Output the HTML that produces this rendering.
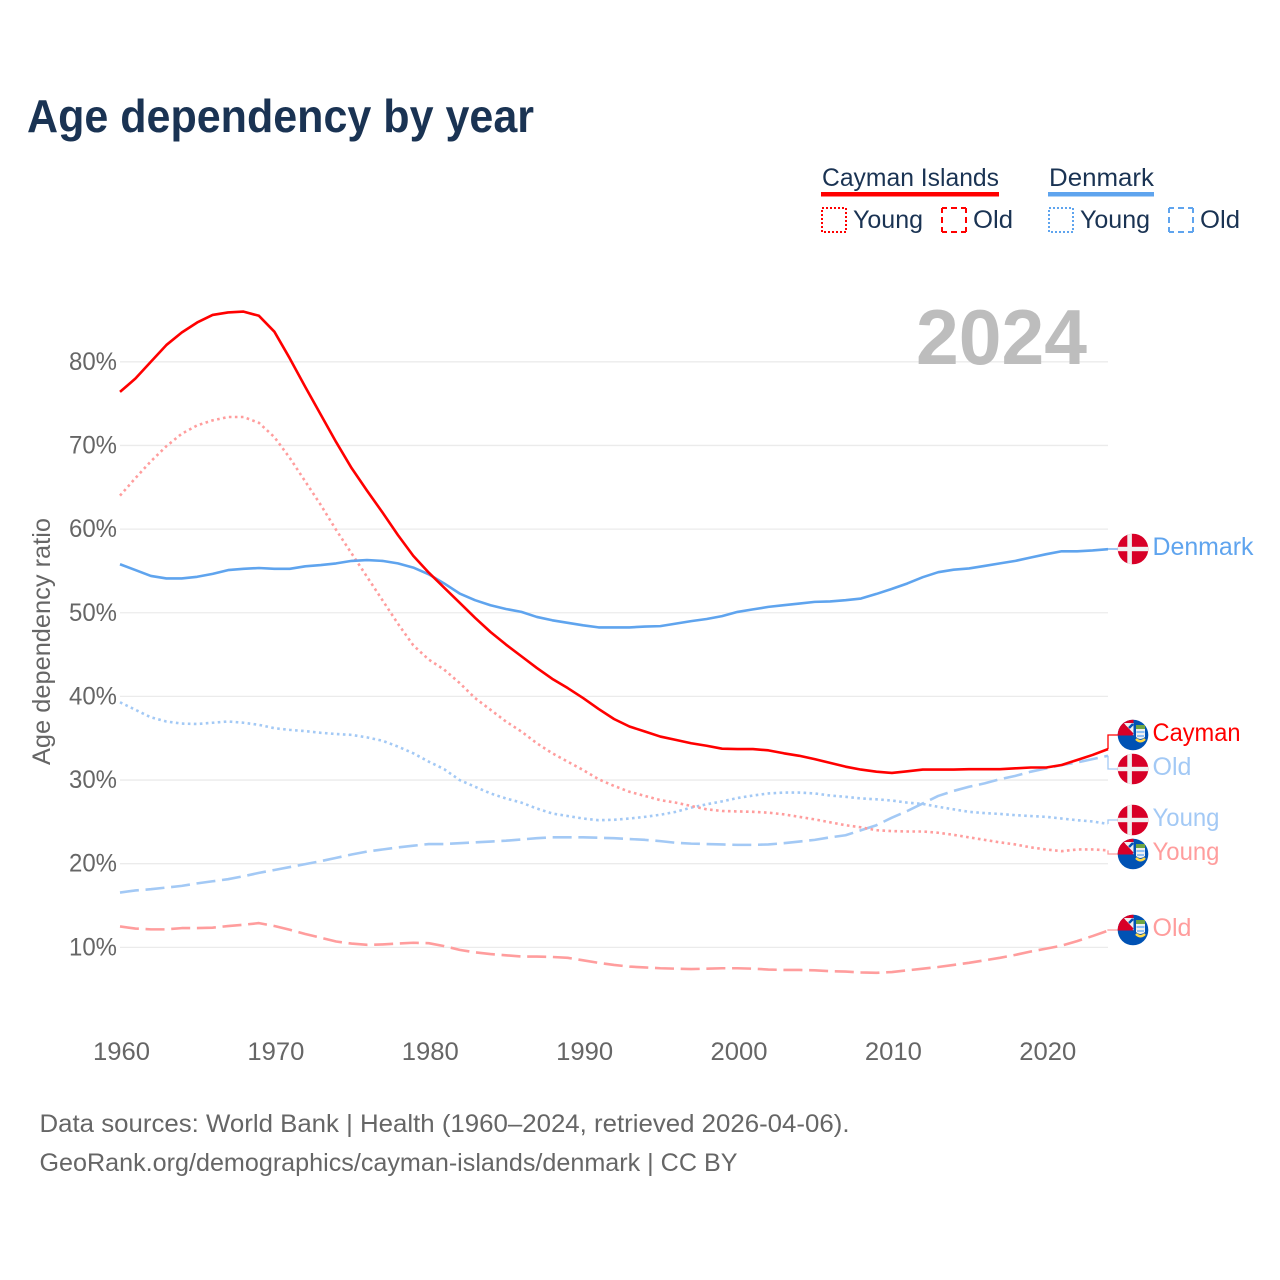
<!DOCTYPE html>
<html lang="en">
<head>
<meta charset="utf-8">
<title>Age dependency by year</title>
<style>
  html, body { margin: 0; padding: 0; background: #fff; }
  svg { display: block; font-family: "Liberation Sans", sans-serif; }
  .leg { font-size: 25px; fill: #1a3353; }
  .tick { font-size: 25px; fill: #666; }
  .foot { font-size: 25px; fill: #666; }
  .end { font-size: 25px; }
</style>
</head>
<body>
<svg id="chart" xmlns="http://www.w3.org/2000/svg" width="1280" height="1280" viewBox="0 0 1280 1280">
  <defs>
    <clipPath id="flag-clip"><circle cx="15" cy="15" r="15.3"></circle></clipPath>
    <symbol id="flag-dk" viewBox="-1 -1 32 32" width="32" height="32">
      <g clip-path="url(#flag-clip)">
        <rect x="-1" y="-1" width="32" height="32" fill="#d80027"></rect>
        <rect x="9.3" y="-1" width="4.6" height="32" fill="#f0f0f0"></rect>
        <rect x="-1" y="12.8" width="32" height="4.4" fill="#f0f0f0"></rect>
      </g>
    </symbol>
    <symbol id="flag-ky" viewBox="-1 -1 32 32" width="32" height="32">
      <g clip-path="url(#flag-clip)">
        <rect x="-1" y="-1" width="32" height="32" fill="#0052b4"></rect>
        <rect x="-1" y="-1" width="16.5" height="16.5" fill="#d80027"></rect>
        <path d="M6 3 H15.5 V15.5 Z" fill="#f0f0f0"></path>
        <path d="M8 6.5 L15 14" stroke="#d80027" stroke-width="1.4" fill="none"></path>
        <path d="M15 4 L11 8" stroke="#0052b4" stroke-width="2.4" fill="none"></path>
        <path d="M18 5 H27 V9.5 H18 Z" fill="#6da544"></path>
        <path d="M18 9 H27 V17 Q22.5 21 18 17 Z" fill="#f0f0f0"></path>
        <path d="M18.5 12 H26.5 M19 16 H26" stroke="#6fb1f7" stroke-width="1.6" fill="none"></path>
        <path d="M18 19 Q22.5 23.5 27 19" stroke="#ffda44" stroke-width="2.4" fill="none"></path>
      </g>
    </symbol>
  </defs>

  <text x="27" y="132" font-size="46" font-weight="700" fill="#1a3353" textLength="507" lengthAdjust="spacingAndGlyphs">Age dependency by year</text>

  <g>
    <g>
      <text class="leg" x="822" y="186" textLength="177" lengthAdjust="spacingAndGlyphs">Cayman Islands</text>
      <rect x="821" y="192" width="178" height="4.5" fill="#ff0000"></rect>
      <rect x="822" y="208" width="24" height="24" fill="none" stroke="#ff0000" stroke-width="2" stroke-dasharray="2 2"></rect>
      <text class="leg" x="853" y="228" textLength="70" lengthAdjust="spacingAndGlyphs">Young</text>
      <rect x="942" y="208" width="24" height="24" fill="none" stroke="#ff0000" stroke-width="2" stroke-dasharray="5 4 6 4 5 0"></rect>
      <text class="leg" x="973" y="228" textLength="40" lengthAdjust="spacingAndGlyphs">Old</text>
    </g>
    <g>
      <text class="leg" x="1049" y="186" textLength="105" lengthAdjust="spacingAndGlyphs">Denmark</text>
      <rect x="1048" y="192" width="106" height="4.5" fill="#5fa4ee"></rect>
      <rect x="1049" y="208" width="24" height="24" fill="none" stroke="#5fa4ee" stroke-width="2" stroke-dasharray="2 2"></rect>
      <text class="leg" x="1080" y="228" textLength="70" lengthAdjust="spacingAndGlyphs">Young</text>
      <rect x="1169" y="208" width="24" height="24" fill="none" stroke="#5fa4ee" stroke-width="2" stroke-dasharray="5 4 6 4 5 0"></rect>
      <text class="leg" x="1200" y="228" textLength="40" lengthAdjust="spacingAndGlyphs">Old</text>
    </g>
  </g>

  <g id="grid"></g>
  <g id="yticks"></g>
  <g id="xticks"></g>

  <text class="tick" transform="translate(50,765) rotate(-90)" x="0" y="0" textLength="247" lengthAdjust="spacingAndGlyphs">Age dependency ratio</text>

  <text x="916" y="364" font-size="78" font-weight="700" fill="#bdbdbd" textLength="171" lengthAdjust="spacingAndGlyphs">2024</text>

  <g id="series"></g>

  <g>
    <use href="#flag-dk" x="1117" y="533"></use>
    <use href="#flag-ky" x="1117" y="719"></use>
    <use href="#flag-dk" x="1117" y="753"></use>
    <use href="#flag-dk" x="1117" y="804"></use>
    <use href="#flag-ky" x="1117" y="838"></use>
    <use href="#flag-ky" x="1117" y="914"></use>
  </g>

  <g>
    <text class="end" x="1152.5" y="555" fill="#5fa4ee" textLength="101" lengthAdjust="spacingAndGlyphs">Denmark</text>
    <text class="end" x="1152.5" y="741" fill="#ff0000" textLength="88" lengthAdjust="spacingAndGlyphs">Cayman</text>
    <text class="end" x="1152.5" y="775" fill="#a3c9f5" textLength="39" lengthAdjust="spacingAndGlyphs">Old</text>
    <text class="end" x="1152.5" y="826" fill="#a3c9f5" textLength="67" lengthAdjust="spacingAndGlyphs">Young</text>
    <text class="end" x="1152.5" y="860" fill="#ff9d9d" textLength="67" lengthAdjust="spacingAndGlyphs">Young</text>
    <text class="end" x="1152.5" y="936" fill="#ff9d9d" textLength="39" lengthAdjust="spacingAndGlyphs">Old</text>
  </g>

  <text class="foot" x="39.5" y="1132" textLength="810" lengthAdjust="spacingAndGlyphs">Data sources: World Bank | Health (1960–2024, retrieved 2026-04-06).</text>
  <text class="foot" x="39.5" y="1171" textLength="698" lengthAdjust="spacingAndGlyphs">GeoRank.org/demographics/cayman-islands/denmark | CC BY</text>
</svg>

<script>
const years = [
  1960,1961,1962,1963,1964,1965,1966,1967,1968,1969,
  1970,1971,1972,1973,1974,1975,1976,1977,1978,1979,
  1980,1981,1982,1983,1984,1985,1986,1987,1988,1989,
  1990,1991,1992,1993,1994,1995,1996,1997,1998,1999,
  2000,2001,2002,2003,2004,2005,2006,2007,2008,2009,
  2010,2011,2012,2013,2014,2015,2016,2017,2018,2019,
  2020,2021,2022,2023,2024
];
const yTickValues = [10,20,30,40,50,60,70,80];
const xTickValues = [1960,1970,1980,1990,2000,2010,2020];

const caymanTotal = [
  76.4,78.0,80.0,82.0,83.5,84.7,85.6,85.9,86.0,85.5,
  83.6,80.4,77.0,73.7,70.4,67.3,64.6,62.0,59.3,56.8,
  54.8,53.0,51.2,49.4,47.7,46.2,44.8,43.4,42.1,41.0,
  39.8,38.5,37.3,36.4,35.8,35.2,34.8,34.4,34.1,33.75,
  33.7,33.7,33.55,33.2,32.9,32.5,32.05,31.6,31.25,31.0,
  30.85,31.05,31.25,31.25,31.25,31.3,31.3,31.3,31.4,31.5,
  31.5,31.8,32.4,33.0,33.7
];
const caymanYoung = [
  64.0,66.1,68.1,69.9,71.4,72.4,73.0,73.4,73.4,72.7,
  71.0,68.5,65.7,62.9,59.9,57.1,54.3,51.5,48.7,46.1,
  44.4,43.2,41.6,39.8,38.4,37.0,35.8,34.4,33.2,32.2,
  31.2,30.1,29.3,28.6,28.1,27.6,27.3,26.9,26.5,26.3,
  26.25,26.2,26.1,25.9,25.6,25.3,24.95,24.6,24.35,24.0,
  23.9,23.85,23.85,23.7,23.45,23.15,22.85,22.55,22.3,21.95,
  21.7,21.5,21.7,21.7,21.6
];
const caymanOld = [
  12.5,12.25,12.15,12.15,12.3,12.3,12.35,12.55,12.7,12.9,
  12.55,12.1,11.6,11.15,10.7,10.45,10.3,10.35,10.45,10.55,
  10.5,10.15,9.7,9.4,9.2,9.05,8.9,8.9,8.85,8.75,
  8.45,8.15,7.9,7.7,7.6,7.5,7.45,7.4,7.45,7.5,
  7.5,7.45,7.35,7.3,7.3,7.25,7.15,7.1,7.0,6.95,
  7.05,7.25,7.45,7.65,7.9,8.15,8.45,8.75,9.1,9.5,
  9.85,10.2,10.75,11.35,12.0
];
const denmarkTotal = [
  55.8,55.1,54.4,54.1,54.1,54.3,54.65,55.1,55.25,55.35,
  55.25,55.25,55.55,55.7,55.9,56.2,56.3,56.2,55.9,55.4,
  54.6,53.5,52.3,51.5,50.9,50.45,50.1,49.5,49.1,48.8,
  48.5,48.25,48.25,48.25,48.35,48.4,48.7,49.0,49.25,49.6,
  50.1,50.4,50.7,50.9,51.1,51.3,51.35,51.5,51.7,52.25,
  52.85,53.5,54.25,54.85,55.15,55.3,55.6,55.9,56.2,56.6,
  57.0,57.35,57.35,57.45,57.6
];
const denmarkYoung = [
  39.3,38.4,37.5,37.0,36.75,36.7,36.85,37.0,36.85,36.6,
  36.2,36.0,35.85,35.65,35.5,35.4,35.1,34.7,34.0,33.2,
  32.2,31.3,30.0,29.2,28.4,27.8,27.3,26.6,26.0,25.7,
  25.4,25.2,25.25,25.4,25.6,25.85,26.2,26.7,27.1,27.45,
  27.85,28.15,28.4,28.5,28.5,28.4,28.15,28.0,27.8,27.7,
  27.55,27.3,27.15,26.8,26.5,26.2,26.05,25.95,25.8,25.7,
  25.6,25.4,25.2,25.05,24.75
];
const denmarkOld = [
  16.55,16.8,16.95,17.15,17.35,17.65,17.9,18.15,18.5,18.9,
  19.25,19.6,19.95,20.3,20.7,21.1,21.45,21.7,21.95,22.15,
  22.35,22.35,22.45,22.55,22.65,22.75,22.9,23.05,23.15,23.15,
  23.15,23.1,23.05,22.95,22.85,22.7,22.5,22.4,22.35,22.3,
  22.25,22.25,22.3,22.45,22.65,22.85,23.15,23.4,24.0,24.6,
  25.5,26.3,27.2,28.1,28.7,29.2,29.6,30.1,30.5,31.0,
  31.4,31.8,32.1,32.5,32.9
];

const SVG_NS = 'http://www.w3.org/2000/svg';
function xScale(year) { return 120 + (year - 1960) * (988 / 64); }
function yScale(value) { return 1031 - value * 8.365; }

const gridLayer = document.getElementById('grid');
const yTickLayer = document.getElementById('yticks');
const xTickLayer = document.getElementById('xticks');
const seriesLayer = document.getElementById('series');

yTickValues.forEach(function (v) {
  const line = document.createElementNS(SVG_NS, 'line');
  
  
  line.setAttribute('x1', 120);
  line.setAttribute('x2', 1108);
  line.setAttribute('y1', yScale(v));
  line.setAttribute('y2', yScale(v));
  line.setAttribute('stroke', '#ebebeb');
  line.setAttribute('stroke-width', '1.3');
  gridLayer.appendChild(line);

  const label = document.createElementNS(SVG_NS, 'text');
  
  
  label.setAttribute('class', 'tick');
  label.setAttribute('x', 117);
  label.setAttribute('y', yScale(v) + 8);
  label.setAttribute('text-anchor', 'end');
  label.setAttribute('textLength', '48');
  label.setAttribute('lengthAdjust', 'spacingAndGlyphs');
  label.textContent = v + '%';
  yTickLayer.appendChild(label);
});

xTickValues.forEach(function (year) {
  const label = document.createElementNS(SVG_NS, 'text');
  
  
  label.setAttribute('class', 'tick');
  label.setAttribute('x', xScale(year) - 27);
  label.setAttribute('y', 1060);
  label.setAttribute('textLength', '57');
  label.setAttribute('lengthAdjust', 'spacingAndGlyphs');
  label.textContent = String(year);
  xTickLayer.appendChild(label);
});

function drawSeries(name, values, color, width, dash, endY) {
  const pts = values.map(function (v, i) {
    return xScale(years[i]).toFixed(2) + ',' + yScale(v).toFixed(2);
  }).join(' ');
  const line = document.createElementNS(SVG_NS, 'polyline');
  
  
  line.setAttribute('points', pts);
  line.setAttribute('fill', 'none');
  line.setAttribute('stroke', color);
  line.setAttribute('stroke-width', width);
  line.setAttribute('stroke-linejoin', 'round');
  if (dash) line.setAttribute('stroke-dasharray', dash);
  seriesLayer.appendChild(line);

  const lastX = xScale(years[years.length - 1]);
  const lastY = yScale(values[values.length - 1]);
  const connector = document.createElementNS(SVG_NS, 'polyline');
  
  
  connector.setAttribute('points', lastX + ',' + lastY + ' ' + lastX + ',' + endY + ' ' + (lastX + 10) + ',' + endY);
  connector.setAttribute('fill', 'none');
  connector.setAttribute('stroke', color);
  connector.setAttribute('stroke-width', '1.3');
  seriesLayer.appendChild(connector);
}

drawSeries('denmark-old', denmarkOld, '#a3c9f5', 2.6, '19 6.7', 769);
drawSeries('denmark-young', denmarkYoung, '#a3c9f5', 2.6, '2.6 3.4', 820);
drawSeries('cayman-old', caymanOld, '#ff9d9d', 2.6, '19 6.7', 930);
drawSeries('cayman-young', caymanYoung, '#ff9d9d', 2.6, '2.6 3.4', 854);
drawSeries('denmark-total', denmarkTotal, '#5fa4ee', 2.6, '', 549);
drawSeries('cayman-total', caymanTotal, '#ff0000', 2.6, '', 735);
</script>
</body>
</html>
